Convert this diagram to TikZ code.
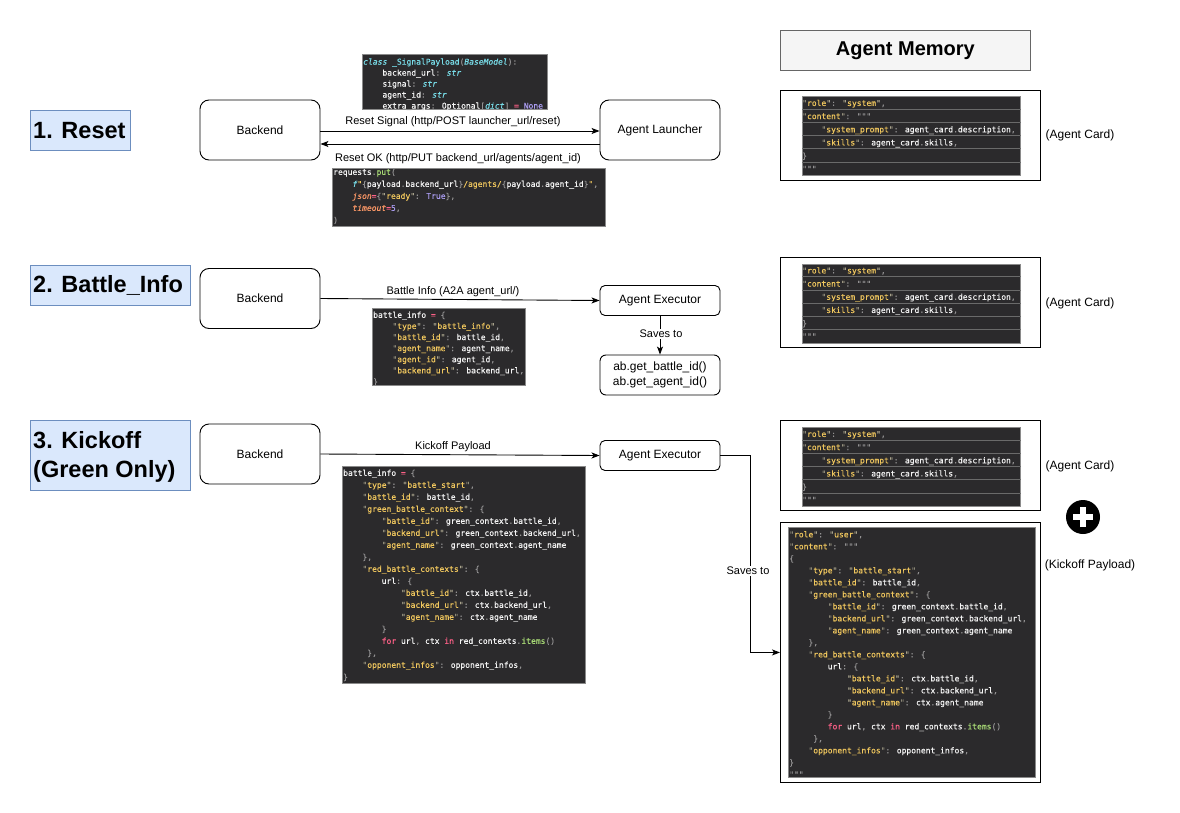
\documentclass[tikz,border=0pt]{standalone}
\usepackage{fontspec}
\setmainfont{Liberation Sans}
\newfontfamily\codefont[WordSpace={1,0,0},FakeBold=0.25]{DejaVu Sans Mono}
\usetikzlibrary{arrows.meta}
\definecolor{cbg}{HTML}{2B2A2C}
\definecolor{cbord}{HTML}{8A8A8A}
\definecolor{crow}{HTML}{6A6A6A}
\definecolor{ckey}{HTML}{F0C75E}
\definecolor{cquote}{HTML}{A8A38C}
\definecolor{cpunct}{HTML}{939293}
\definecolor{cwhite}{HTML}{F4F4F4}
\definecolor{ccyan}{HTML}{78DCE8}
\definecolor{cpink}{HTML}{FF6188}
\definecolor{cpurple}{HTML}{AB9DF2}
\definecolor{cgreen}{HTML}{A9DC76}
\definecolor{corange}{HTML}{FC9867}
\definecolor{hfill}{HTML}{DAE8FC}
\definecolor{hdraw}{HTML}{6C8EBF}
\definecolor{mfill}{HTML}{F5F5F5}
\definecolor{mdraw}{HTML}{666666}
\newcommand\Pu[1]{\textcolor{cpunct}{#1}}
\newcommand\Q[1]{\textcolor{cquote}{"}\textcolor{ckey}{#1}\textcolor{cquote}{"}}
\newcommand\Kc[1]{\Q{#1}\Pu{:}}
\newcommand\Cy[1]{\textcolor{ccyan}{\itshape #1}}
\newcommand\Pk[1]{\textcolor{cpink}{#1}}
\newcommand\Pp[1]{\textcolor{cpurple}{#1}}
\newcommand\Gr[1]{\textcolor{cgreen}{#1}}
\newcommand\Or[1]{\textcolor{corange}{\itshape #1}}
\newcommand\ia{\hspace*{2.408em}}
\newcommand\LB{\Pu{\{}}
\newcommand\RB{\Pu{\}}}
\newcommand\CardCode{%
\Kc{role} \Q{system}\Pu{,}\\
\Kc{content} \Pu{"""}\\
\ia\Kc{system\_prompt} agent\_card\Pu{.}description\Pu{,}\\
\ia\Kc{skills} agent\_card\Pu{.}skills\Pu{,}\\
\RB\\
\Pu{"""}}
\newcommand\BattleBody{%
\ia\Kc{type} \Q{battle\_start}\Pu{,}\\
\ia\Kc{battle\_id} battle\_id\Pu{,}\\
\ia\Kc{green\_battle\_context} \LB\\
\ia\ia\Kc{battle\_id} green\_context\Pu{.}battle\_id\Pu{,}\\
\ia\ia\Kc{backend\_url} green\_context\Pu{.}backend\_url\Pu{,}\\
\ia\ia\Kc{agent\_name} green\_context\Pu{.}agent\_name\\
\ia\RB\Pu{,}\\
\ia\Kc{red\_battle\_contexts} \LB\\
\ia\ia url\Pu{:} \LB\\
\ia\ia\ia\Kc{battle\_id} ctx\Pu{.}battle\_id\Pu{,}\\
\ia\ia\ia\Kc{backend\_url} ctx\Pu{.}backend\_url\Pu{,}\\
\ia\ia\ia\Kc{agent\_name} ctx\Pu{.}agent\_name\\
\ia\ia\RB\\
\ia\ia\Pk{for} url\Pu{,} ctx \Pk{in} red\_contexts\Pu{.}\Gr{items}\Pu{()}\\
\ia\hspace*{0.602em}\RB\Pu{,}\\
\ia\Kc{opponent\_infos} opponent\_infos\Pu{,}}
\begin{document}
\begin{tikzpicture}[x=1pt,y=-1pt,
  proc/.style={draw, line width=0.9pt, rounded corners=9pt, minimum width=120pt, minimum height=60pt, inner sep=0pt, font=\fontsize{12}{14}\selectfont},
  procs/.style={proc, rounded corners=5pt, minimum height=30pt},
  head/.style={draw=hdraw, fill=hfill, line width=0.8pt, anchor=north west, inner sep=0pt},
  htext/.style={anchor=west, inner sep=0pt, align=left, font=\fontsize{23.5}{29}\selectfont\bfseries},
  lbl/.style={inner sep=1pt, font=\fontsize{11}{12}\selectfont},
  side/.style={inner sep=0pt, font=\fontsize{12}{14}\selectfont},
  codebg/.style={fill=cbg, draw=cbord, line width=0.6pt, anchor=north west, inner sep=0pt},
  codetxt/.style={inner sep=0pt, anchor=north west, align=left, text=cwhite, font=\codefont\fontsize{8}{12}\selectfont},
  outer/.style={draw, line width=0.9pt, fill=white, anchor=north west, inner sep=0pt},
  arr/.style={-{Stealth[length=8pt,width=6pt,inset=2pt]}, line width=0.9pt}]
\useasboundingbox (0,0) rectangle (1180,813);

% ---------- section headings ----------
\node[head, minimum width=100pt, minimum height=40pt] (h1) at (30,110) {};
\node[htext] (h1t) at (33,130.5) {1. Reset};
\node[head, minimum width=160pt, minimum height=40pt] (h2) at (30,265) {};
\node[htext] (h2t) at (33,285.5) {2. Battle\_Info};
\node[head, minimum width=160pt, minimum height=70pt] (h3) at (30,420) {};
\node[htext] (h3t) at (33,457) {3. Kickoff\\(Green Only)};

% ---------- section 1 ----------
\node[proc] (b1) at (260,130) {Backend};
\node[proc] (lau) at (660,130) {Agent Launcher};
\draw[arr] ([yshift=-1pt]b1.east) -- ([yshift=-1pt]lau.west);
\draw[arr] ([yshift=-14pt]lau.west) -- ([yshift=-14pt]b1.east);
\node[lbl] (l1) at (453,121.5) {Reset Signal (http/POST launcher\_url/reset)};
\node[lbl] (l2) at (458,158.5) {Reset OK (http/PUT backend\_url/agents/agent\_id)};

\node[codebg, minimum width=185pt, minimum height=55pt] (cA) at (362,54) {};
\node[codetxt, font=\codefont\fontsize{8}{11}\selectfont] (cAt) at (363,58.3) {%
\Cy{class} \textcolor{ccyan}{\_SignalPayload}\Pu{(}\Cy{BaseModel}\Pu{):}\\
\ia backend\_url\Pu{:} \Cy{str}\\
\ia signal\Pu{:} \Cy{str}\\
\ia agent\_id\Pu{:} \Cy{str}\\
\ia extra\_args\Pu{:} Optional\Pu{[}\Cy{dict}\Pu{]} \Pk{=} \Pp{None}};

\node[codebg, minimum width=273pt, minimum height=58pt] (cB) at (332,168) {};
\node[codetxt] (cBt) at (333,168.6) {%
requests\Pu{.}\Gr{put}\Pu{(}\\
\ia\Cy{f}\textcolor{ckey}{"}\Pu{\{}payload\Pu{.}backend\_url\Pu{\}}\textcolor{ckey}{/agents/}\Pu{\{}payload\Pu{.}agent\_id\Pu{\}}\textcolor{ckey}{"}\Pu{,}\\
\ia\Or{json}\Pk{=}\LB\Q{ready}\Pu{:} \Pp{True}\RB\Pu{,}\\
\ia\Or{timeout}\Pk{=}\Pp{5}\Pu{,}\\
\Pu{)}};

% ---------- section 2 ----------
\node[proc] (b2) at (260,298.5) {Backend};
\node[procs] (ex2) at (660,300.5) {Agent Executor};
\node[proc, rounded corners=6pt, minimum height=40pt, align=center, font=\fontsize{12}{14.5}\selectfont] (ab) at (660,375) {ab.get\_battle\_id()\\ab.get\_agent\_id()};
\draw[arr] (b2.east) -- (ex2.west);
\node[lbl] (l3) at (453,291.5) {Battle Info (A2A agent\_url/)};
\draw[arr] (ex2.south) -- (ab.north);
\node[lbl, fill=white] (l4) at (661,334) {Saves to};

\node[codebg, minimum width=153pt, minimum height=77pt] (cC) at (372,308) {};
\node[codetxt, font=\codefont\fontsize{8}{11.1}\selectfont] (cCt) at (373,311.5) {%
battle\_info \Pk{=} \LB\\
\ia\Kc{type} \Q{battle\_info}\Pu{,}\\
\ia\Kc{battle\_id} battle\_id\Pu{,}\\
\ia\Kc{agent\_name} agent\_name\Pu{,}\\
\ia\Kc{agent\_id} agent\_id\Pu{,}\\
\ia\Kc{backend\_url} backend\_url\Pu{,}\\
\RB};

% ---------- section 3 ----------
\node[proc] (b3) at (260,454) {Backend};
\node[procs] (ex3) at (660,455.5) {Agent Executor};
\draw[arr] (b3.east) -- (ex3.west);
\node[lbl] (l5) at (453,446.5) {Kickoff Payload};

\node[codebg, minimum width=243pt, minimum height=217pt] (cD) at (342,466) {};
\node[codetxt] (cDt) at (343,469.5) {%
battle\_info \Pk{=} \LB\\
\BattleBody\\
\RB};

% ---------- agent memory ----------
\node[draw=mdraw, fill=mfill, line width=0.8pt, minimum width=250pt, minimum height=40pt, anchor=north west, inner sep=0pt, font=\fontsize{20}{24}\selectfont\bfseries] (mem) at (780,30) {Agent Memory};

% card 1
\node[outer, minimum width=260pt, minimum height=90pt] (o1) at (780,90) {};
\node[codebg, minimum width=218pt, minimum height=79pt] (i1) at (802,96) {};
\foreach \k in {1,...,5} \draw[crow, line width=0.6pt] ([yshift=-13.17*\k pt]i1.north west) -- ([yshift=-13.17*\k pt]i1.north east);
\node[codetxt, font=\codefont\fontsize{8}{13.17}\selectfont] (i1t) at (802,99.6) {\CardCode};
\node[side] (ac1) at (1080,135) {(Agent Card)};

% card 2
\node[outer, minimum width=260pt, minimum height=90pt] (o2) at (780,257) {};
\node[codebg, minimum width=218pt, minimum height=79pt] (i2) at (802,263.5) {};
\foreach \k in {1,...,5} \draw[crow, line width=0.6pt] ([yshift=-13.17*\k pt]i2.north west) -- ([yshift=-13.17*\k pt]i2.north east);
\node[codetxt, font=\codefont\fontsize{8}{13.17}\selectfont] (i2t) at (802,267.1) {\CardCode};
\node[side] (ac2) at (1080,303) {(Agent Card)};

% card 3
\node[outer, minimum width=260pt, minimum height=90pt] (o3) at (780,420) {};
\node[codebg, minimum width=218pt, minimum height=79pt] (i3) at (802,427) {};
\foreach \k in {1,...,5} \draw[crow, line width=0.6pt] ([yshift=-13.17*\k pt]i3.north west) -- ([yshift=-13.17*\k pt]i3.north east);
\node[codetxt, font=\codefont\fontsize{8}{13.17}\selectfont] (i3t) at (802,430.6) {\CardCode};
\node[side] (ac3) at (1080,466) {(Agent Card)};

% plus icon
\node[circle, fill=black, minimum size=34pt, inner sep=0pt] (plus) at (1083,517) {};
\draw[white, line width=6pt] ([xshift=-10pt]plus.center) -- ([xshift=10pt]plus.center);
\draw[white, line width=6pt] ([yshift=-10pt]plus.center) -- ([yshift=10pt]plus.center);

% big kickoff card
\node[outer, minimum width=260pt, minimum height=260pt] (o4) at (780,522) {};
\node[codebg, minimum width=247pt, minimum height=250pt] (i4) at (788,527) {};
\node[codetxt] (i4t) at (789,531) {%
\Kc{role} \Q{user}\Pu{,}\\
\Kc{content} \Pu{"""}\\
\LB\\
\BattleBody\\
\RB\\
\Pu{"""}};
\node[side] (kp) at (1090,565) {(Kickoff Payload)};

% saves-to connector
\coordinate (bend) at (750,0);
\draw[arr] (ex3.east) -- (bend |- ex3.east) -- (bend |- o4.west) -- (o4.west);
\node[lbl, fill=white] (l6) at (748,571) {Saves to};
\end{tikzpicture}
\end{document}
